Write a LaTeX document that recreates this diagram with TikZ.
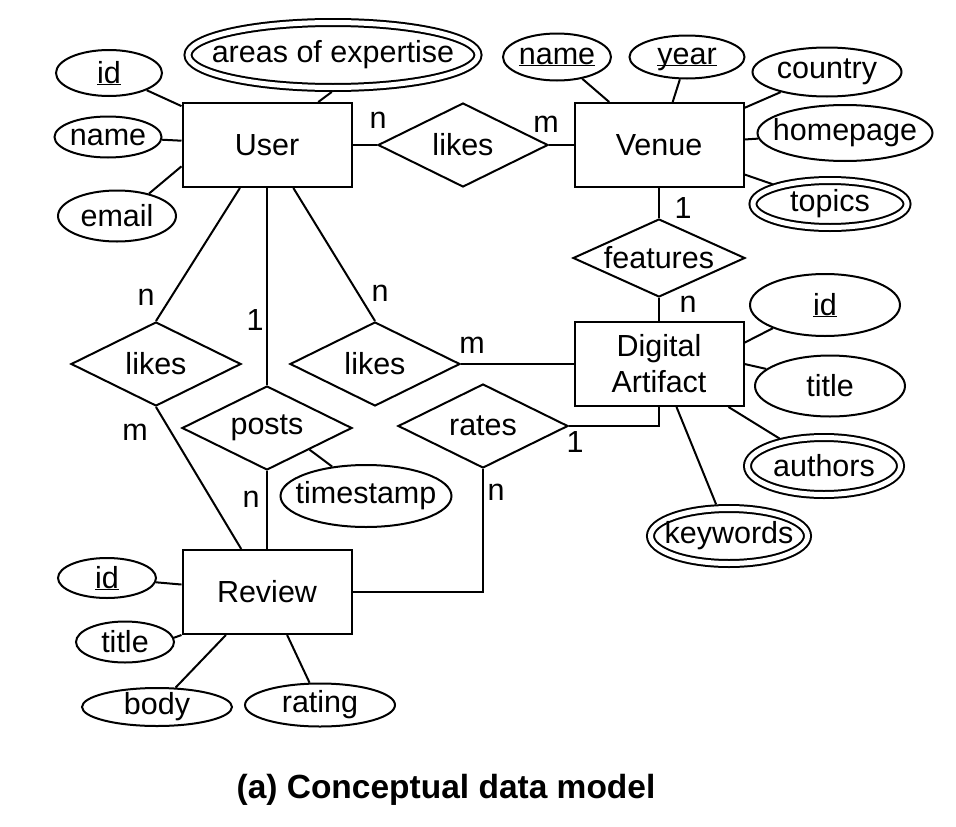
\documentclass[tikz,border=0pt]{standalone}
\usepackage{fontspec}
\setmainfont{Liberation Sans}
\usetikzlibrary{shapes.geometric}

% key attribute: underline through the baseline
\newcommand{\pkey}[1]{\underline{\raisebox{0pt}[\height][0pt]{#1}}}

\tikzset{
  entity/.style={draw, rectangle, minimum width=169pt, minimum height=84pt, align=center},
  rel/.style={draw, diamond, aspect=2, inner sep=0pt, minimum width=170pt, minimum height=84pt},
  attr/.style={draw, ellipse, inner xsep=-20pt, inner ysep=-3pt},
  multi/.style={attr, double, double distance=5pt, outer sep=4.5pt},
  card/.style={anchor=base, inner sep=0pt},
}

\begin{document}
\begin{tikzpicture}[x=1pt, y=-1pt, line width=2pt, font=\fontsize{30.5}{36}\selectfont]
	\useasboundingbox (0,0) rectangle (956,827);

	% Entiteiten
	\node[entity] (User) at (267,145) {User};
	\node[entity] (Venue) at (659,145) {Venue};
	\node[entity] (DA) at (659,364) {Digital\\Artifact};
	\node[entity] (Review) at (267,592) {Review};

	% Relaties
	\node[rel] (likesV) at (463,145) {likes};
	\node[rel, minimum width=172pt, minimum height=78pt] (feat) at (659,258) {features};
	\node[rel] (likesRev) at (156,364) {likes};
	\node[rel] (likesDA) at (375,364) {likes};
	\node[rel] (posts) at (267,428) {posts};
	\node[rel] (rates) at (483,426) {rates};

	% Attributen User
	\node[multi, minimum width=290pt, minimum height=65pt] (aoe) at (333,55) {areas of expertise};
	\node[attr, minimum width=106pt, minimum height=46pt] (uid) at (109,73) {\pkey{id}};
	\node[attr, minimum width=107pt, minimum height=41pt] (uname) at (108,137) {name};
	\node[attr, minimum width=118pt, minimum height=51pt] (email) at (117,216) {email};

	% Attributen Venue
	\node[attr, minimum width=108pt, minimum height=47pt] (vname) at (557,57) {\pkey{name}};
	\node[attr, minimum width=115pt, minimum height=43pt] (vyear) at (687,57) {\pkey{year}};
	\node[attr, minimum width=149pt, minimum height=49pt] (country) at (827,72) {country};
	\node[attr, minimum width=175pt, minimum height=56pt] (homepage) at (845,133) {homepage};
	\node[multi, minimum width=154pt, minimum height=47pt] (topics) at (830,204) {topics};

	% Attributen Digital Artifact
	\node[attr, minimum width=150pt, minimum height=62pt] (daid) at (825,305) {\pkey{id}};
	\node[attr, minimum width=150pt, minimum height=61pt] (datitle) at (830,386) {title};
	\node[multi, minimum width=153pt, minimum height=57pt] (authors) at (824,466) {authors};
	\node[multi, minimum width=157pt, minimum height=55pt] (keywords) at (729,536) {keywords};

	% Attributen Review
	\node[attr, minimum width=171pt, minimum height=62pt] (tstamp) at (366,496) {timestamp};
	\node[attr, minimum width=98pt, minimum height=40pt] (rid) at (107,578) {\pkey{id}};
	\node[attr, minimum width=98pt, minimum height=41pt] (rtitle) at (125,642) {title};
	\node[attr, minimum width=150pt, minimum height=38pt] (body) at (157,707) {body};
	\node[attr, minimum width=150pt, minimum height=43pt] (rating) at (320,705) {rating};

	% Verbindingen
	\draw (User) -- (likesV) -- (Venue);
	\draw (Venue) -- (feat) -- (DA);
	\draw (User) -- (likesRev.north);
	\draw (likesRev.south) -- (Review);
	\draw (User) -- (likesDA.north);
	\draw (likesDA) -- (DA);
	\draw (User) -- (posts) -- (Review);
	\draw (rates.east) -| (DA.south);
	\draw (rates.south) |- (Review.east);

	\draw (aoe.268) -- (User.40);
	\draw (uid) -- (User);
	\draw (uname) -- (User);
	\draw (email.35) -- (User.194);
	\draw (vname) -- (Venue);
	\draw (vyear) -- (Venue);
	\draw (country) -- (Venue);
	\draw (homepage) -- (Venue);
	\draw (topics) -- (Venue);
	\draw (daid.204) -- (DA.14);
	\draw (datitle.165) -- (DA.east);
	\draw (authors) -- (DA);
	\draw (keywords) -- (DA);
	\draw (posts.333) -- (tstamp.139);
	\draw (rid) -- (Review);
	\draw (rtitle.5) -- (Review.south west);
	\draw (body) -- (Review);
	\draw (rating) -- (Review);

	% Kardinaliteiten
	\node[card] (cUV1) at (378,128) {n};
	\node[card] (cUV2) at (546,132) {m};
	\node[card] (cVD1) at (683,218) {1};
	\node[card] (cVD2) at (688,312) {n};
	\node[card] (cUR1) at (146,305) {n};
	\node[card] (cUR2) at (135,440) {m};
	\node[card] (cUP1) at (255,330) {1};
	\node[card] (cUP2) at (251,507) {n};
	\node[card] (cUD1) at (380,301) {n};
	\node[card] (cUD2) at (472,353) {m};
	\node[card] (cRD1) at (575,452) {1};
	\node[card] (cRD2) at (496,500) {n};

	% Onderschrift
	\node[anchor=base, font=\fontsize{33.5}{40}\selectfont\bfseries] (caption) at (446,798) {(a) Conceptual data model};
\end{tikzpicture}
\end{document}
